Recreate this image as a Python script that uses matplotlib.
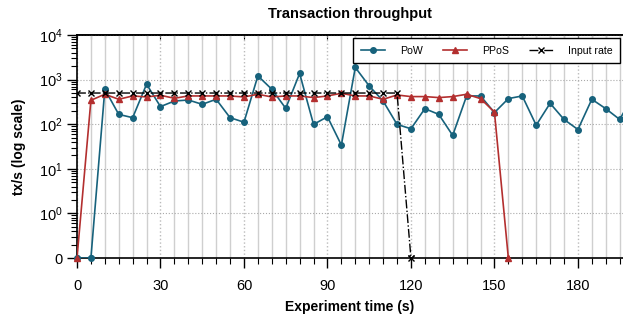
import numpy as np
import matplotlib
matplotlib.use("Agg")
import matplotlib.pyplot as plt
from matplotlib.ticker import FixedLocator, MultipleLocator, NullFormatter

plt.rcParams['font.family'] = ['Liberation Sans', 'DejaVu Sans']

# ---- data ----
pow_t = list(range(0, 205, 5))
pow_v = [0, 0, 608, 166, 140, 788, 248, 331, 349, 279, 362, 140, 111, 1211,
         608, 227, 1372, 99, 147, 34, 1873, 721, 331, 99, 79, 223, 166, 56,
         430, 430, 182, 375, 430, 95, 294, 128, 76, 362, 223, 128, 445]
ppos_t = list(range(0, 160, 5))
ppos_v = [0, 344, 469, 362, 430, 408, 445, 381, 430, 430, 430, 430, 408, 469,
          408, 430, 430, 395, 430, 494, 430, 430, 362, 452, 416, 416, 395, 416,
          469, 375, 187, 0]
inp_t = list(range(0, 125, 5))
inp_v = [500] * 24 + [0]

ytick_vals = [0.1, 1, 10, 100, 1000, 10000]
ytick_labels = ['0', r'$\mathdefault{10^{0}}$', r'$\mathdefault{10^{1}}$',
                r'$\mathdefault{10^{2}}$', r'$\mathdefault{10^{3}}$',
                r'$\mathdefault{10^{4}}$']
xticks = [0, 30, 60, 90, 120, 150, 180]

ZERO = 0.1  # zero drawn at bottom of log axis


def z(v):
    v = np.asarray(v, dtype=float)
    return np.where(v == 0, ZERO, v)


pow_c = '#17627c'
ppos_c = '#b32f2f'

fig = plt.figure(figsize=(6.23, 3.22), dpi=100)
ax = fig.add_axes([77 / 623, 1 - 258 / 322, 1 - 77 / 623, (258 - 35) / 322])

ax.set_yscale('log')
ax.set_ylim(0.1, 1e4)
ax.set_xlim(0, 196.2)

# grid
ax.xaxis.set_minor_locator(MultipleLocator(5))
ax.set_xticks(xticks)
ax.grid(True, which='minor', axis='x', color='#cfcfcf', linestyle='-', linewidth=1.0)
ax.grid(True, which='major', axis='x', color='#bbbbbb', linestyle=':', linewidth=1.0)
ax.grid(True, which='major', axis='y', color='#aaaaaa', linestyle=':', linewidth=0.8)
ax.set_axisbelow(True)

ax.plot(pow_t, z(pow_v), color=pow_c, marker='o', markersize=4, linewidth=1.2,
        label='PoW', clip_on=True, zorder=3)
ax.plot(ppos_t, z(ppos_v), color=ppos_c, marker='^', markersize=4.4, linewidth=1.2,
        label='PPoS', clip_on=True, zorder=3)
ax.plot(inp_t, z(inp_v), color='black', marker='x', markersize=5, linewidth=1.0,
        linestyle='-.', label='Input rate', clip_on=True, zorder=4)

# zero-value markers drawn fully on the axis
for t, v, c, m, ms in [(pow_t, pow_v, pow_c, 'o', 4), (ppos_t, ppos_v, ppos_c, '^', 4.4),
                       (inp_t, inp_v, 'black', 'x', 5)]:
    tz = [ti for ti, vi in zip(t, v) if vi == 0]
    ax.plot(tz, [ZERO] * len(tz), linestyle='none', marker=m, color=c, markersize=ms,
            clip_on=False, zorder=5)

ax.yaxis.set_major_locator(FixedLocator(ytick_vals))
ax.set_yticklabels(ytick_labels)
minor = []
for d in [0.1, 1, 10, 100, 1000]:
    minor += [d * k for k in range(2, 10)]
ax.yaxis.set_minor_locator(FixedLocator(minor))
ax.yaxis.set_minor_formatter(NullFormatter())

ax.tick_params(axis='both', which='major', labelsize=10.5, direction='out', length=7, width=1)
ax.tick_params(axis='both', which='minor', direction='out', length=4, width=0.8)
ax.tick_params(axis='x', which='major', pad=8)

sec = ax.secondary_xaxis('top')
sec.xaxis.set_minor_locator(MultipleLocator(5))
sec.set_xticks(xticks)
sec.tick_params(which='both', direction='in', labeltop=False, length=3, width=0.8)
sec.spines['top'].set_linewidth(1.2)

for s in ['left', 'bottom', 'top']:
    ax.spines[s].set_linewidth(1.2)
ax.spines['right'].set_visible(False)

ax.set_xlabel('Experiment time (s)', fontsize=10, fontweight='bold', labelpad=5)
ax.set_ylabel('tx/s (log scale)', fontsize=10, fontweight='bold', labelpad=9)
ax.set_title('Transaction throughput', fontsize=10.5, fontweight='bold', pad=12)

leg = ax.legend(loc='upper right', ncol=3, fontsize=7.6, frameon=True, fancybox=False,
                edgecolor='black', framealpha=1, borderaxespad=0.3, handlelength=2.3,
                handletextpad=1.4, columnspacing=1.9, borderpad=0.7)
leg.get_frame().set_linewidth(1.0)

fig.savefig('out.png', dpi=100)
